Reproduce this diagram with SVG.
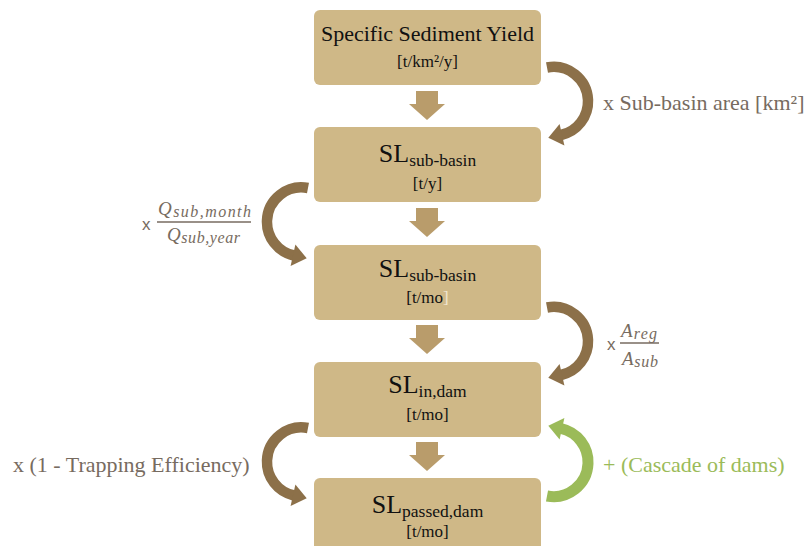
<svg xmlns="http://www.w3.org/2000/svg" width="811" height="546" viewBox="0 0 811 546">
<style>
.box{fill:#CFB887}
.down{fill:#B99C6B}
.t{font-family:"Liberation Serif","Times New Roman",serif;fill:#111;text-anchor:middle}
.lbl{font-family:"Liberation Serif","Times New Roman",serif;font-size:22px;fill:#776B60}
.m{font-family:"Liberation Serif","Times New Roman",serif;font-style:italic;fill:#776B60}
.sx{font-family:"Liberation Sans",Arial,sans-serif;font-size:17px;fill:#776B60}
.arc{fill:none;stroke:#8C7049;stroke-width:10.5}
.head{fill:#8C7049}
.garc{fill:none;stroke:#9BBB59;stroke-width:11}
.ghead{fill:#9BBB59}
.bar{stroke:#776B60;stroke-width:1.3}
</style>
<rect width="811" height="546" fill="#fff"/>
<g id="n1">
<rect class="box" x="314" y="10" width="227" height="75" rx="6"/>
<text class="t" x="427.5" y="41" font-size="22">Specific Sediment Yield</text>
<text class="t" x="427.5" y="67" font-size="17">[t/km²/y]</text>
</g>
<g id="n2">
<rect class="box" x="314" y="127" width="227" height="75" rx="6"/>
<text class="t" x="427.5" y="162"><tspan font-size="26">SL</tspan><tspan font-size="17.5" dy="4">sub-basin</tspan></text>
<text class="t" x="427.5" y="189" font-size="17">[t/y]</text>
</g>
<g id="n3">
<rect class="box" x="314" y="245" width="227" height="75" rx="6"/>
<text class="t" x="427.5" y="277"><tspan font-size="26">SL</tspan><tspan font-size="17.5" dy="4">sub-basin</tspan></text>
<text class="t" x="427.5" y="303" font-size="17">[t/mo<tspan fill="#EFE6D2">]</tspan></text>
</g>
<g id="n4">
<rect class="box" x="314" y="362" width="227" height="75" rx="6"/>
<text class="t" x="427.5" y="393"><tspan font-size="26">SL</tspan><tspan font-size="17.5" dy="4">in,dam</tspan></text>
<text class="t" x="427.5" y="420" font-size="17">[t/mo]</text>
</g>
<g id="n5">
<rect class="box" x="314" y="478" width="227" height="80" rx="6"/>
<text class="t" x="427.5" y="513"><tspan font-size="26">SL</tspan><tspan font-size="17.5" dy="4">passed,dam</tspan></text>
<text class="t" x="427.5" y="537" font-size="17">[t/mo]</text>
</g>
<g id="connectors">
<path class="down" d="M416,91H438V104H445L427,120L409,104H416Z"/>
<path class="down" d="M416,208H438V221H445L427,237L409,221H416Z"/>
<path class="down" d="M416,325H438V338H445L427,354L409,338H416Z"/>
<path class="down" d="M416,442H438V455H445L427,471L409,455H416Z"/>
<path class="arc" d="M547,67.5A34.5,34.5 0 0 1 588,100A34.5,34.5 0 0 1 561,135"/>
<polygon class="head" points="548.3,137.8 564.4,145.5 559.6,124"/>
<path class="arc" d="M308,188A34.5,34.5 0 0 0 267,220.5A34.5,34.5 0 0 0 294,255.5"/>
<polygon class="head" points="306.7,258.3 290.6,266 295.4,244.5"/>
<path class="arc" d="M547,307.5A34.5,34.5 0 0 1 588,340A34.5,34.5 0 0 1 561,375"/>
<polygon class="head" points="548.3,377.8 564.4,385.5 559.6,364"/>
<path class="arc" d="M308,428A34.5,34.5 0 0 0 267,460.5A34.5,34.5 0 0 0 294,495.5"/>
<polygon class="head" points="306.7,498.3 290.6,506 295.4,484.5"/>
<path class="garc" d="M547,496A34.5,34.5 0 0 0 588,463.5A34.5,34.5 0 0 0 561,428.5"/>
<polygon class="ghead" points="548.3,425.7 564.4,418 559.6,439.5"/>
</g>
<g id="labels">
<text class="lbl" x="603" y="110">x Sub-basin area [km²]</text>
<text class="sx" x="142" y="230">x</text>
<line class="bar" x1="157" y1="222" x2="251" y2="222"/>
<text class="m" x="158" y="215" textLength="93" lengthAdjust="spacing"><tspan font-size="19">Q</tspan><tspan font-size="16" dy="2">sub,month</tspan></text>
<text class="m" x="167" y="241" textLength="73" lengthAdjust="spacing"><tspan font-size="19">Q</tspan><tspan font-size="16" dy="2">sub,year</tspan></text>
<text class="sx" x="607" y="350">x</text>
<line class="bar" x1="620" y1="343" x2="659" y2="343"/>
<text class="m" x="621" y="337" textLength="36" lengthAdjust="spacing"><tspan font-size="19">A</tspan><tspan font-size="16" dy="2">reg</tspan></text>
<text class="m" x="622" y="365" textLength="36" lengthAdjust="spacing"><tspan font-size="19">A</tspan><tspan font-size="16" dy="2">sub</tspan></text>
<text class="lbl" x="13" y="472">x (1 - Trapping Efficiency)</text>
<text class="lbl" x="603" y="472" style="fill:#9BBB59">+ (Cascade of dams)</text>
</g>
</svg>
